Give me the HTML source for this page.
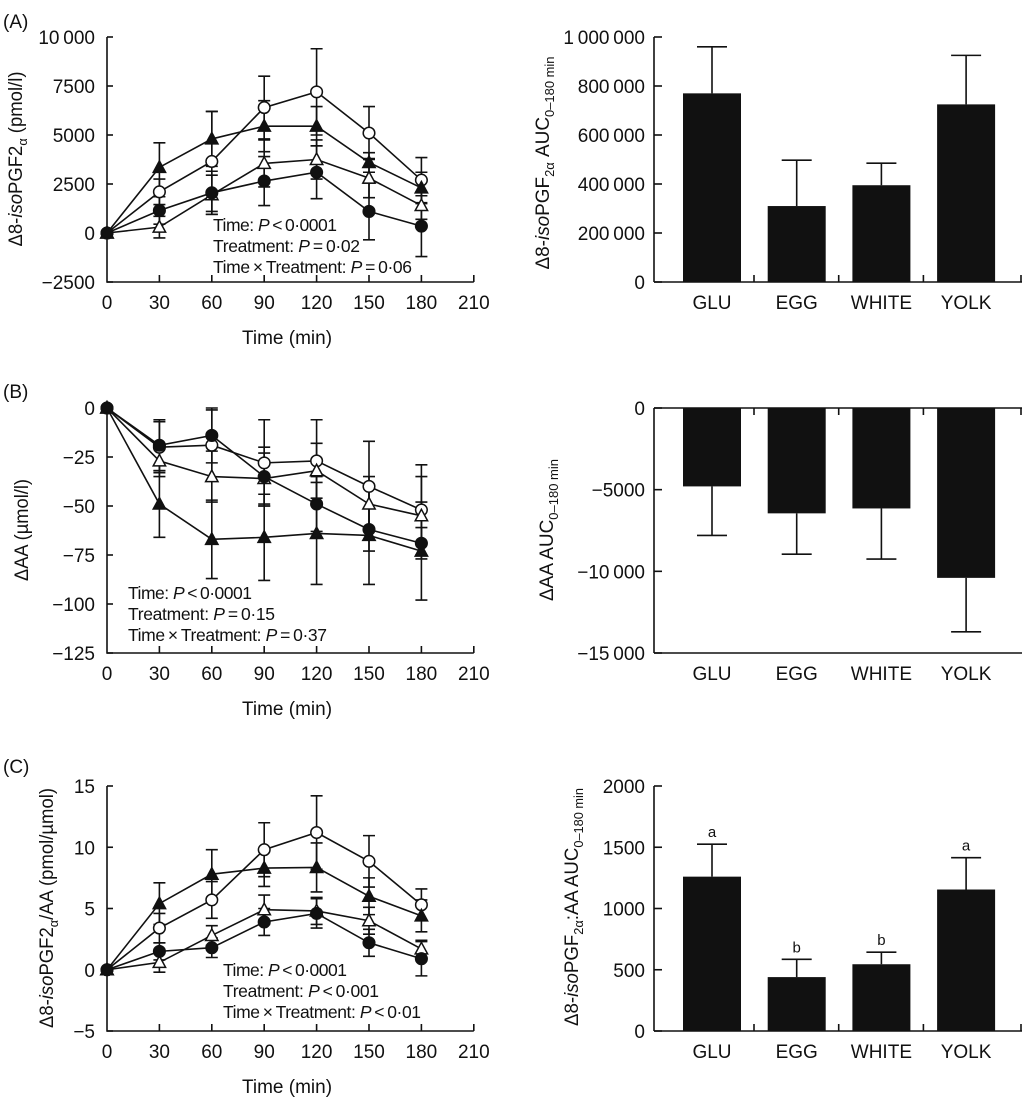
<!DOCTYPE html>
<html><head><meta charset="utf-8"><style>
html,body{margin:0;padding:0;background:#fff}
svg{display:block;font-family:"Liberation Sans",Arial,sans-serif}
</style></head><body>
<svg id="fig" width="1024" height="1098" viewBox="0 0 1024 1098" xmlns="http://www.w3.org/2000/svg"></svg>
<script>
// ---------- data ----------
const timesMin = [0, 30, 60, 90, 120, 150, 180];
const xTickLabels = [0, 30, 60, 90, 120, 150, 180, 210];
const categories = ["GLU", "EGG", "WHITE", "YOLK"];

// Panel A: Δ8-isoPGF2α (pmol/l)
const aOpenCircle = [0, 2100, 3650, 6400, 7200, 5100, 2700];
const aOpenCircleErr = [0, 650, 2550, 1600, 2200, 1350, 1150];
const aFilledTri = [0, 3350, 4800, 5450, 5450, 3600, 2300];
const aFilledTriErr = [0, 1250, 1400, 1300, 1000, 500, 800];
const aOpenTri = [0, 300, 1950, 3550, 3750, 2800, 1400];
const aOpenTriErr = [0, 550, 1000, 1200, 1000, 1000, 700];
const aFilledCircle = [0, 1150, 2050, 2650, 3100, 1100, 350];
const aFilledCircleErr = [0, 700, 1100, 1250, 1350, 1450, 1550];
const aYTicks = [10000, 7500, 5000, 2500, 0, -2500];
const aYTickLabels = ["10\u2009000", "7500", "5000", "2500", "0", "\u22122500"];
const aAuc = [770000, 310000, 395000, 725000];
const aAucErr = [190000, 187000, 90000, 200000];
const aAucTicks = [1000000, 800000, 600000, 400000, 200000, 0];
const aAucTickLabels = ["1\u2009000\u2009000", "800\u2009000", "600\u2009000", "400\u2009000", "200\u2009000", "0"];

// Panel B: ΔAA (µmol/l)
const bOpenCircle = [0, -20, -19, -28, -27, -40, -52];
const bOpenCircleErr = [0, 13, 18, 22, 21, 23, 23];
const bFilledTri = [0, -49, -67, -66, -64, -65, -73];
const bFilledTriErr = [0, 17, 20, 22, 26, 25, 25];
const bOpenTri = [0, -27, -35, -36, -32, -49, -55];
const bOpenTriErr = [0, 8, 13, 13, 14, 14, 20];
const bFilledCircle = [0, -19, -14, -35, -49, -62, -69];
const bFilledCircleErr = [0, 13, 14, 15, 14, 11, 8];
const bYTicks = [0, -25, -50, -75, -100, -125];
const bYTickLabels = ["0", "\u221225", "\u221250", "\u221275", "\u2212100", "\u2212125"];
const bAuc = [-4800, -6450, -6150, -10400];
const bAucErr = [3000, 2500, 3100, 3300];
const bAucTicks = [0, -5000, -10000, -15000];
const bAucTickLabels = ["0", "\u22125000", "\u221210\u2009000", "\u221215\u2009000"];

// Panel C: Δ8-isoPGF2α/AA (pmol/µmol)
const cOpenCircle = [0, 3.4, 5.7, 9.8, 11.2, 8.85, 5.3];
const cOpenCircleErr = [0, 1.2, 1.5, 2.2, 3.0, 2.1, 1.3];
const cFilledTri = [0, 5.4, 7.8, 8.3, 8.35, 6.0, 4.4];
const cFilledTriErr = [0, 1.7, 2.0, 1.5, 2.0, 1.5, 1.3];
const cOpenTri = [0, 0.6, 2.8, 4.9, 4.8, 4.0, 1.7];
const cOpenTriErr = [0, 0.8, 0.8, 1.2, 1.1, 1.1, 0.7];
const cFilledCircle = [0, 1.5, 1.8, 3.9, 4.6, 2.2, 0.9];
const cFilledCircleErr = [0, 0.7, 0.8, 1.1, 1.2, 1.1, 1.4];
const cYTicks = [15, 10, 5, 0, -5];
const cYTickLabels = ["15", "10", "5", "0", "\u22125"];
const cAuc = [1260, 440, 545, 1155];
const cAucErr = [265, 145, 98, 260];
const cAucLetters = ["a", "b", "b", "a"];
const cAucTicks = [2000, 1500, 1000, 500, 0];
const cAucTickLabels = ["2000", "1500", "1000", "500", "0"];

// ---------- drawing ----------
const NS = "http://www.w3.org/2000/svg";
const svg = document.getElementById("fig");
function el(tag, attrs, parent) {
  const e = document.createElementNS(NS, tag);
  for (const k in attrs) e.setAttribute(k, attrs[k]);
  (parent || svg).appendChild(e);
  return e;
}
function txt(str, x, y, anchor, size, parent, name) {
  const t = el("text", {x: x, y: y, "text-anchor": anchor, "font-size": size, fill: "#111"}, parent);
  t.textContent = str;
  
  
  return t;
}
function rotTitle(parts, cx, cy, len, parent, name) {
  const t = el("text", {transform: "translate(" + cx + "," + cy + ") rotate(-90)", x: 0, y: 6, "text-anchor": "middle", "font-size": 19, fill: "#111", textLength: len, lengthAdjust: "spacingAndGlyphs"}, parent);
  
  
  parts.forEach(p => {
    const s = el("tspan", {}, t);
    if (p.i) s.setAttribute("font-style", "italic");
    if (p.sub) { s.setAttribute("font-size", 13); s.setAttribute("dy", 5); }
    if (p.up) { s.setAttribute("dy", -5); }
    s.textContent = p.t;
  });
  return t;
}
const LINE = {stroke: "#111", "stroke-width": 1.6, fill: "none"};

function lineChart(opt) {
  const g = el("g", {});
  
  
  const x0 = 107, xPer = 52.4 / 30;
  const X = t => x0 + t * xPer;
  const yTop = opt.yTop, yBot = yTop + 245;
  const vMax = opt.ticks[0], vMin = opt.ticks[opt.ticks.length - 1];
  const Y = v => yTop + (vMax - v) / (vMax - vMin) * 245;
  const xLast = X(xTickLabels[xTickLabels.length - 1]);
  const ax = el("path", Object.assign({d: "M" + x0 + "," + yTop + " V" + yBot + " H" + xLast}, LINE), g);
  
  
  opt.ticks.forEach((v, i) => {
    el("line", Object.assign({x1: x0, x2: x0 + 6, y1: Y(v), y2: Y(v)}, LINE), g);
    txt(opt.tickLabels[i], 95, Y(v) + 7, "end", 19, g, "y-tick-label");
  });
  xTickLabels.forEach(t => {
    if (t > 0) el("line", Object.assign({x1: X(t), x2: X(t), y1: yBot, y2: yBot - 7}, LINE), g);
    txt(String(t), X(t), yBot + 27, "middle", 19, g, "x-tick-label");
  });
  txt("Time (min)", 287, yBot + 62, "middle", 19, g, "x-axis-title");
  rotTitle(opt.title, opt.titleX, yTop + 122, opt.titleLen, g, "y-axis-title");
  opt.series.forEach(s => {
    const sg = el("g", {}, g);
    
    
    s.v.forEach((v, i) => {
      if (!s.e[i]) return;
      const x = X(timesMin[i]);
      el("path", Object.assign({d: "M" + x + "," + Y(v - s.e[i]) + " V" + Y(v + s.e[i]) +
        " M" + (x - 6) + "," + Y(v - s.e[i]) + " h12 M" + (x - 6) + "," + Y(v + s.e[i]) + " h12"}, LINE), sg);
    });
    const pts = s.v.map((v, i) => X(timesMin[i]) + "," + Y(v)).join(" ");
    const pl = el("polyline", Object.assign({points: pts}, LINE), sg);
    
    
  });
  opt.series.forEach(s => {
    s.v.forEach((v, i) => {
      const x = X(timesMin[i]), y = Y(v);
      const fill = s.m[0] === "f" ? "#111" : "#fff";
      let m;
      if (s.m[1] === "c") m = el("circle", {cx: x, cy: y, r: 5.8, fill: fill, stroke: "#111", "stroke-width": 1.5}, g);
      else m = el("path", {d: "M" + x + "," + (y - 6.5) + " L" + (x + 6.2) + "," + (y + 5) + " L" + (x - 6.2) + "," + (y + 5) + "Z", fill: fill, stroke: "#111", "stroke-width": 1.5}, g);
      
      
    });
  });
  opt.stats.forEach((line, i) => {
    const t = el("text", {x: opt.statX, y: opt.statY + i * 21 + 6, "font-size": 17.5, fill: "#111", textLength: opt.statLens[i], lengthAdjust: "spacing"}, g);
    
    
    const a = el("tspan", {}, t); a.textContent = line[0];
    const b = el("tspan", {"font-style": "italic"}, t); b.textContent = "P";
    const c = el("tspan", {}, t); c.textContent = line[1];
  });
}

function barChart(opt) {
  const g = el("g", {});
  
  
  const x0 = 654, xEnd = 1022;
  const yTop = opt.yTop;
  const vMax = opt.ticks[0], vMin = opt.ticks[opt.ticks.length - 1];
  const Y = v => yTop + (vMax - v) / (vMax - vMin) * 245;
  const C = i => 712 + i * 84.7;
  const y0 = Y(0);
  el("line", Object.assign({x1: x0, x2: x0, y1: yTop, y2: yTop + 245}, LINE), g);
  const base = el("line", Object.assign({x1: x0, x2: xEnd, y1: y0, y2: y0}, LINE), g);
  
  
  if (opt.neg) el("line", Object.assign({x1: x0, x2: xEnd, y1: yTop + 245, y2: yTop + 245}, LINE), g);
  opt.ticks.forEach((v, i) => {
    el("line", Object.assign({x1: x0, x2: x0 + 8, y1: Y(v), y2: Y(v)}, LINE), g);
    txt(opt.tickLabels[i], 645, Y(v) + 7, "end", 19, g, "y-tick-label");
  });
  categories.forEach((c, i) => {
    const tx = i < 3 ? C(i) + 42 : xEnd - 1;
    el("line", Object.assign({x1: tx, x2: tx, y1: y0, y2: opt.neg ? y0 + 7 : y0 - 7}, LINE), g);
    txt(c, C(i), yTop + 245 + 27, "middle", 19, g, "category-label");
    const v = opt.vals[i], e = opt.errs[i];
    const r = el("rect", {x: C(i) - 29, y: Math.min(Y(v), y0), width: 58, height: Math.abs(Y(v) - y0), fill: "#111"}, g);
    
    
    const ye = Y(v + (v >= 0 ? e : -e));
    el("path", Object.assign({d: "M" + C(i) + "," + Y(v) + " V" + ye + " M" + (C(i) - 15) + "," + ye + " h30"}, LINE), g);
    if (opt.letters) txt(opt.letters[i], C(i), ye - 7, "middle", 15, g, "significance-letter");
  });
  rotTitle(opt.title, opt.titleX, opt.titleY, opt.titleLen, g, "y-axis-title");
}

txt("(A)", 3, 28, "start", 19, null, "panel-label-a");
txt("(B)", 3, 398, "start", 19, null, "panel-label-b");
txt("(C)", 3, 773, "start", 19, null, "panel-label-c");

lineChart({name: "chart-a-isoprostane-time", yTop: 37, ticks: aYTicks, tickLabels: aYTickLabels,
  title: [{t: "\u03948-"}, {t: "iso", i: 1}, {t: "PGF2"}, {t: "\u03b1", sub: 1}, {t: " (pmol/l)", up: 1}], titleX: 16, titleLen: 175,
  series: [{name: "series-open-circle", m: "oc", v: aOpenCircle, e: aOpenCircleErr},
           {name: "series-filled-triangle", m: "ft", v: aFilledTri, e: aFilledTriErr},
           {name: "series-open-triangle", m: "ot", v: aOpenTri, e: aOpenTriErr},
           {name: "series-filled-circle", m: "fc", v: aFilledCircle, e: aFilledCircleErr}],
  stats: [["Time: ", "\u2009<\u20090\u00b70001"], ["Treatment: ", "\u2009=\u20090\u00b702"], ["Time\u2009\u00d7\u2009Treatment: ", "\u2009=\u20090\u00b706"]],
  statLens: [124, 147, 199], statX: 213, statY: 225});

lineChart({name: "chart-b-aa-time", yTop: 408, ticks: bYTicks, tickLabels: bYTickLabels,
  title: [{t: "\u0394AA (\u00b5mol/l)"}], titleX: 22, titleLen: 102,
  series: [{name: "series-open-circle", m: "oc", v: bOpenCircle, e: bOpenCircleErr},
           {name: "series-filled-triangle", m: "ft", v: bFilledTri, e: bFilledTriErr},
           {name: "series-open-triangle", m: "ot", v: bOpenTri, e: bOpenTriErr},
           {name: "series-filled-circle", m: "fc", v: bFilledCircle, e: bFilledCircleErr}],
  stats: [["Time: ", "\u2009<\u20090\u00b70001"], ["Treatment: ", "\u2009=\u20090\u00b715"], ["Time\u2009\u00d7\u2009Treatment: ", "\u2009=\u20090\u00b737"]],
  statLens: [124, 147, 199], statX: 128, statY: 593});

lineChart({name: "chart-c-ratio-time", yTop: 786, ticks: cYTicks, tickLabels: cYTickLabels,
  title: [{t: "\u03948-"}, {t: "iso", i: 1}, {t: "PGF2"}, {t: "\u03b1", sub: 1}, {t: "/AA (pmol/\u00b5mol)", up: 1}], titleX: 47, titleLen: 240,
  series: [{name: "series-open-circle", m: "oc", v: cOpenCircle, e: cOpenCircleErr},
           {name: "series-filled-triangle", m: "ft", v: cFilledTri, e: cFilledTriErr},
           {name: "series-open-triangle", m: "ot", v: cOpenTri, e: cOpenTriErr},
           {name: "series-filled-circle", m: "fc", v: cFilledCircle, e: cFilledCircleErr}],
  stats: [["Time: ", "\u2009<\u20090\u00b70001"], ["Treatment: ", "\u2009<\u20090\u00b7001"], ["Time\u2009\u00d7\u2009Treatment: ", "\u2009<\u20090\u00b701"]],
  statLens: [124, 156, 198], statX: 223, statY: 970});

barChart({name: "chart-a-auc-bars", yTop: 37, ticks: aAucTicks, tickLabels: aAucTickLabels, vals: aAuc, errs: aAucErr,
  title: [{t: "\u03948-"}, {t: "iso", i: 1}, {t: "PGF"}, {t: "2\u03b1", sub: 1}, {t: " AUC", up: 1}, {t: "0\u2013180 min", sub: 1}],
  titleX: 543, titleY: 163, titleLen: 213});
barChart({name: "chart-b-auc-bars", yTop: 408, neg: true, ticks: bAucTicks, tickLabels: bAucTickLabels, vals: bAuc, errs: bAucErr,
  title: [{t: "\u0394AA AUC"}, {t: "0\u2013180 min", sub: 1}],
  titleX: 547, titleY: 530, titleLen: 142});
barChart({name: "chart-c-auc-bars", yTop: 786, ticks: cAucTicks, tickLabels: cAucTickLabels, vals: cAuc, errs: cAucErr, letters: cAucLetters,
  title: [{t: "\u03948-"}, {t: "iso", i: 1}, {t: "PGF"}, {t: "2\u03b1", sub: 1}, {t: ":AA AUC", up: 1}, {t: "0\u2013180 min", sub: 1}],
  titleX: 572, titleY: 907, titleLen: 238});
</script>
</body></html>
